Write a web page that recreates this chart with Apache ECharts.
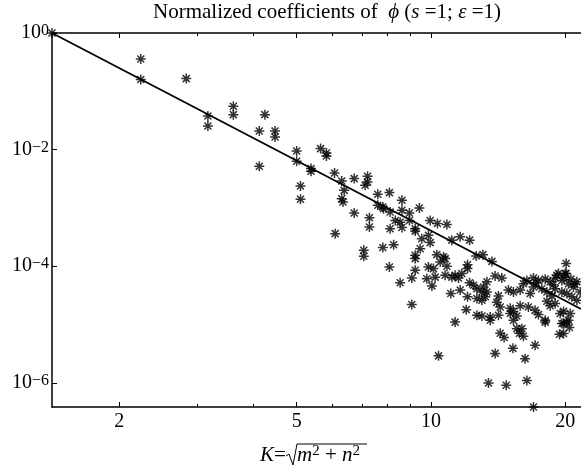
<!DOCTYPE html>
<html>
<head>
<meta charset="utf-8">
<script src="https://cdn.jsdelivr.net/npm/echarts@6/dist/echarts.min.js"></script>
<style>
  html, body { margin: 0; padding: 0; background: #fff; }
  #chart { width: 581px; height: 473px; }
</style>
</head>
<body>
<div id="chart"></div>
<script>
// K = sqrt(m^2 + n^2) and the normalized coefficient
let kVals = [
    1.414, 2.236, 2.236, 2.828, 3.162, 3.162, 3.606, 3.606, 4.243, 4.123,
    4.123, 4.472, 4.472, 5.0, 5.0, 5.1, 5.1, 5.385, 5.385, 5.657,
    5.831, 5.831, 6.08, 6.31, 6.39, 6.31, 6.35, 6.73, 6.73, 7.21,
    7.21, 7.12, 7.28, 7.28, 7.6, 7.6, 6.1, 7.07, 7.07, 7.8,
    8.07, 8.61, 9.42, 7.8, 7.83, 8.1, 8.61, 8.95, 8.32, 8.53,
    8.95, 9.96, 10.34, 10.86, 8.1, 8.61, 9.22, 9.22, 9.54, 9.87,
    9.46, 9.96, 8.25, 9.22, 9.22, 10.31, 10.67, 10.76, 10.49, 10.86,
    8.07, 9.22, 9.06, 9.87, 10.13, 9.79, 10.22, 10.05, 8.53, 10.76,
    11.14, 11.33, 11.53, 11.73, 12.08, 12.08, 11.14, 11.63, 12.21, 12.63,
    12.21, 12.46, 12.68, 11.08, 11.63, 12.08, 12.68, 12.0, 9.06, 11.33,
    12.68, 10.4,
    13.08, 13.70, 20.10, 13.93, 14.42, 13.35, 13.12, 13.01, 13.35, 16.41,
    16.98, 17.42, 18.04, 18.51, 19.16, 20.0, 19.66, 20.34, 20.87, 21.24,
    14.92, 15.31, 15.85, 16.69, 16.98, 17.73, 18.20, 18.67, 18.99, 19.66,
    20.17, 20.70, 21.24, 21.61, 13.01, 13.24, 14.17, 14.05, 18.20, 18.99,
    14.30, 15.06, 15.31, 15.85, 16.54, 17.12, 18.51, 19.83, 20.52, 13.58,
    14.17, 15.06, 15.58, 17.42, 18.04, 19.49, 20.34, 19.83, 13.01, 16.12,
    19.32, 20.10, 17.2, 18.8, 19.0, 19.9, 20.6, 21.0,
    13.58, 15.31, 18.04, 19.66, 20.17, 20.44, 19.42, 19.83, 14.30, 14.59,
    15.58, 15.99, 15.79, 16.12, 17.12, 13.93, 15.27, 16.26, 13.46, 14.75,
    16.41, 16.98
];
let coefVals = [
    1, 0.358, 0.159, 0.165, 0.0377, 0.0254, 0.0553, 0.0398, 0.0398, 0.0208,
    0.00517, 0.0208, 0.0164, 0.00946, 0.0063, 0.00238, 0.00141, 0.00472, 0.00425, 0.0104,
    0.00875, 0.00777, 0.00397, 0.00289, 0.002, 0.00144, 0.00126, 0.00318, 0.00082, 0.00348,
    0.00278, 0.00244, 0.00068, 0.00047, 0.00171, 0.00111, 0.000362, 0.000188, 0.000148, 0.00021,
    0.00183, 0.00135, 0.000995, 0.00104, 0.00097, 0.00085, 0.00091, 0.00082, 0.00061, 0.00057,
    0.00061, 0.00061, 0.00054, 0.00052, 0.00044, 0.00046, 0.00044, 0.0004, 0.000297, 0.000339,
    0.0002, 0.000254, 0.000234, 0.000154, 0.000135, 0.000158, 0.000144, 0.000135, 0.000118, 0.0001,
    9.7e-5, 8.5e-5, 6.3e-5, 9.7e-5, 9.1e-5, 6.1e-5, 6.5e-5, 4.6e-5, 5.2e-5, 7.0e-5,
    6.5e-5, 7.0e-5, 6.3e-5, 7.5e-5, 1.06e-4, 9.1e-5, 2.8e-4, 3.2e-4, 2.8e-4, 1.5e-4,
    5.2e-5, 4.7e-5, 4.1e-5, 3.4e-5, 3.9e-5, 3.0e-5, 2.8e-5, 1.8e-5, 2.2e-5, 1.1e-5,
    1.44e-5, 2.9e-6,
    1.58e-4, 1.21e-4, 1.11e-4, 6.8e-5, 6.3e-5, 5.4e-5, 4.4e-5, 3.6e-5, 3.6e-5, 5.7e-5,
    6.3e-5, 5.7e-5, 6.0e-5, 5.4e-5, 7.0e-5, 7.5e-5, 5.7e-5, 5.0e-5, 4.4e-5, 5.4e-5,
    3.9e-5, 3.6e-5, 3.9e-5, 3.4e-5, 4.4e-5, 4.1e-5, 3.6e-5, 3.1e-5, 4.1e-5, 3.6e-5,
    3.4e-5, 3.0e-5, 2.6e-5, 3.6e-5, 2.6e-5, 3.0e-5, 3.1e-5, 2.4e-5, 2.5e-5, 2.3e-5,
    2.0e-5, 1.9e-5, 1.68e-5, 2.1e-5, 2.0e-5, 1.75e-5, 2.1e-5, 1.68e-5, 1.54e-5, 1.35e-5,
    1.44e-5, 1.54e-5, 1.4e-5, 1.48e-5, 1.18e-5, 1.54e-5, 1.18e-5, 1.04e-5, 1.4e-5, 5.0e-5,
    7.5e-5, 7.5e-5, 5.2e-5, 4.8e-5, 6.3e-5, 6.5e-5, 6.0e-5, 4.9e-5,
    1.18e-5, 1.18e-5, 1.1e-5, 1.04e-5, 1.1e-5, 8.9e-6, 6.8e-6, 7.0e-6, 7.1e-6, 6.0e-6,
    8.5e-6, 8.5e-6, 7.1e-6, 6.3e-6, 4.4e-6, 3.2e-6, 3.9e-6, 2.6e-6, 9.9e-7, 9.1e-7,
    1.1e-6, 3.85e-7
];
// straight reference line K^-4 (end points as read)
let fitK = [1.414, 21.7];
let fitCoef = [1, 1.85e-5];

let xMajorTicks = [2, 5, 10, 20];
let xMinorTicks = [3, 4, 6, 7, 8, 9];
let yTicks = [1, 1e-2, 1e-4, 1e-6];

let xMin = 1.414, xMax = 21.7;
let yMin = 3.85e-7, yMax = 1;

let serif = '"Liberation Serif", "DejaVu Serif", serif';
let starPath = 'path://M5,0L5,10M0,5L10,5M1.5,1.5L8.5,8.5M8.5,1.5L1.5,8.5';

let myChart = echarts.init(document.getElementById('chart'));

function xAxisOf(pos, ticks, len, withLabel, withLine) {
    return {
        type: 'log',
        logBase: 10,
        position: pos,
        min: xMin,
        max: xMax,
        axisLine: {show: withLine, lineStyle: {color: '#000', width: 1.5}},
        axisTick: {show: true, inside: true, length: len, customValues: ticks,
            lineStyle: {color: '#000', width: 1}},
        axisLabel: withLabel ? {
            show: true, customValues: ticks, margin: 5,
            color: '#000', fontFamily: serif, fontSize: 20,
            formatter: function (v) { return String(Math.round(v)); }
        } : {show: false},
        splitLine: {show: false},
        minorTick: {show: false}
    };
}

let scatterData = kVals.map((k, i) => [k, coefVals[i]]);
let lineData = fitK.map((k, i) => [k, fitCoef[i]]);

myChart.setOption({
    animation: false,
    backgroundColor: '#fff',
    grid: {left: 52, right: 0, top: 33, bottom: 66},
    xAxis: [
        xAxisOf('bottom', xMajorTicks, 5, true, true),
        xAxisOf('bottom', xMinorTicks, 3, false, false),
        xAxisOf('top', xMajorTicks, 5, false, true),
        xAxisOf('top', xMinorTicks, 3, false, false)
    ],
    yAxis: {
        type: 'log',
        logBase: 10,
        min: yMin,
        max: yMax,
        axisLine: {show: true, lineStyle: {color: '#000', width: 1.5}},
        axisTick: {show: true, inside: true, length: 5, customValues: yTicks,
            lineStyle: {color: '#000', width: 1}},
        axisLabel: {
            show: true, customValues: yTicks, margin: 3,
            formatter: function (v) {
                let e = Math.round(Math.log10(v));
                return '{b|10}{s|' + (e < 0 ? '\u2212' + (-e) : e) + '}';
            },
            rich: {
                b: {fontFamily: serif, fontSize: 20, color: '#000', lineHeight: 20, verticalAlign: 'bottom'},
                s: {fontFamily: serif, fontSize: 16, color: '#000', lineHeight: 15, verticalAlign: 'top'}
            }
        },
        splitLine: {show: false}
    },
    series: [
        {
            type: 'line',
            xAxisIndex: 0,
            data: lineData,
            showSymbol: false,
            lineStyle: {color: '#000', width: 1.8},
            z: 3
        },
        {
            type: 'scatter',
            xAxisIndex: 0,
            data: scatterData,
            symbol: starPath,
            symbolSize: 10,
            clip: false,
            itemStyle: {color: '#000', borderColor: '#000', borderWidth: 1.5},
            z: 4
        }
    ],
    graphic: [
        {
            type: 'text',
            x: 327,
            y: 2,
            style: {
                text: '{r|Normalized coefficients of  }{i|\u03D5}{r| (}{i|s}{r| =1; }{i|\u03B5}{r| =1)}',
                align: 'center',
                verticalAlign: 'top',
                rich: {
                    r: {fontFamily: serif, fontSize: 21, fill: '#000'},
                    i: {fontFamily: serif, fontSize: 21, fontStyle: 'italic', fill: '#000'}
                }
            }
        },
        {
            type: 'text',
            x: 260,
            y: 444,
            style: {
                text: '{i|K}{r|=}',
                verticalAlign: 'top',
                rich: {
                    r: {fontFamily: serif, fontSize: 21, fill: '#000', lineHeight: 22, verticalAlign: 'bottom'},
                    i: {fontFamily: serif, fontSize: 21, fontStyle: 'italic', fill: '#000', lineHeight: 22, verticalAlign: 'bottom'}
                }
            }
        },
        {
            type: 'text',
            x: 297,
            y: 444,
            style: {
                text: '{i|m}{s|2}{r| + }{i|n}{s|2}',
                verticalAlign: 'top',
                rich: {
                    r: {fontFamily: serif, fontSize: 21, fill: '#000', lineHeight: 22, verticalAlign: 'bottom'},
                    i: {fontFamily: serif, fontSize: 21, fontStyle: 'italic', fill: '#000', lineHeight: 22, verticalAlign: 'bottom'},
                    s: {fontFamily: serif, fontSize: 15, fill: '#000', lineHeight: 14, verticalAlign: 'top'}
                }
            }
        },
        {
            type: 'polyline',
            shape: {points: [[286, 456], [289, 454], [293, 465], [297, 444], [367, 444]]},
            style: {stroke: '#000', lineWidth: 1, fill: null}
        }
    ]
});
</script>
</body>
</html>
